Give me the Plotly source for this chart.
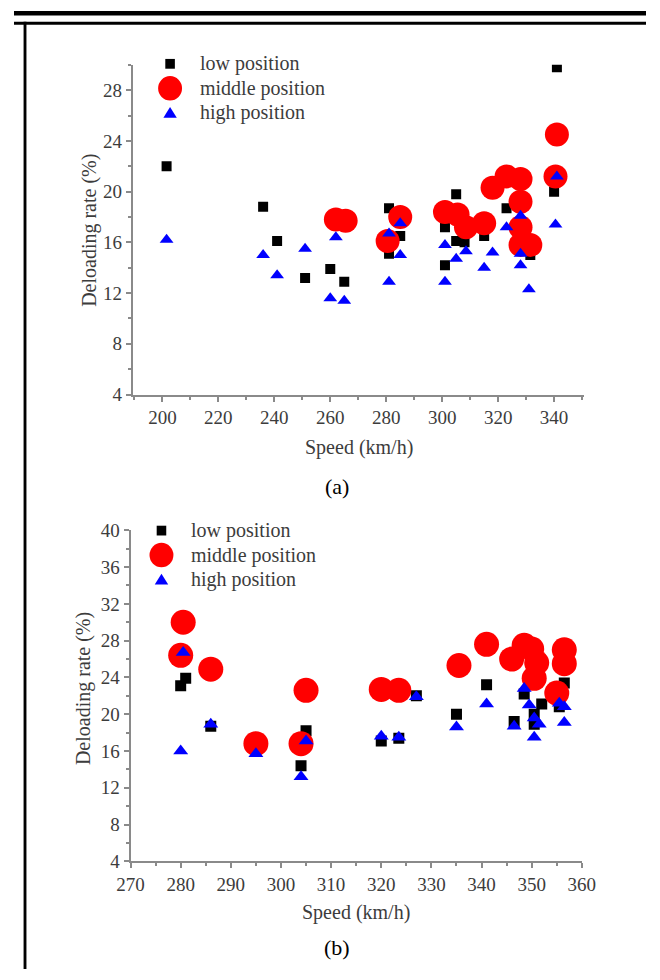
import plotly.graph_objects as go

# ---- Panel (a): deloading rate vs speed ----
a_low_speed = [201.5, 236, 241, 251, 260, 265, 281, 281, 285, 301, 301, 305, 305, 308, 315, 323, 331.5, 341, 340]
a_low_rate = [22.0, 18.8, 16.1, 13.2, 13.9, 12.9, 18.7, 15.1, 16.5, 17.2, 14.2, 19.8, 16.1, 16.0, 16.5, 18.7, 15.0, 29.8, 20.0]

a_mid_speed = [262, 265.5, 280.5, 285, 301, 305.5, 308.5, 315, 318, 323, 328, 328, 328, 328, 331.5, 341, 340.5]
a_mid_rate = [17.8, 17.7, 16.1, 18.0, 18.4, 18.2, 17.2, 17.5, 20.3, 21.2, 21.0, 19.2, 17.2, 15.8, 15.8, 24.5, 21.2]

a_high_speed = [201.5, 236, 241, 251, 260, 265, 262, 281, 281, 285, 285, 301, 301, 305, 308.5, 315, 318, 323, 328, 328, 328, 331, 341, 340.5]
a_high_rate = [16.2, 15.0, 13.4, 15.5, 11.6, 11.4, 16.4, 16.7, 12.9, 17.5, 15.0, 15.8, 12.9, 14.7, 15.3, 14.0, 15.2, 17.2, 18.1, 15.1, 14.2, 12.3, 21.2, 17.4]

# ---- Panel (b) ----
b_low_speed = [280, 281, 286, 304, 305, 320, 323.5, 327, 335, 341, 346.5, 348.5, 350.5, 350.5, 352, 355.5, 356.5]
b_low_rate = [23.1, 23.9, 18.7, 14.4, 18.2, 17.1, 17.4, 22.0, 20.0, 23.2, 19.2, 22.2, 20.0, 18.9, 21.1, 20.8, 23.4]

b_mid_speed = [280.5, 280, 286, 295, 304, 305, 320, 323.5, 335.5, 341, 346, 348.5, 350, 351, 350.5, 356.5, 356.5, 355]
b_mid_rate = [30.0, 26.4, 24.9, 16.8, 16.8, 22.6, 22.7, 22.6, 25.3, 27.6, 26.0, 27.5, 27.1, 25.6, 23.9, 27.0, 25.5, 22.3]

b_high_speed = [280.5, 280, 286, 295, 304, 305, 320, 323.5, 327, 335, 341, 346.5, 348.5, 349.5, 350.5, 351.5, 350.5, 355.5, 356.5, 356.5]
b_high_rate = [26.7, 16.0, 18.9, 15.7, 13.2, 17.1, 17.6, 17.5, 21.9, 18.6, 21.1, 18.7, 22.8, 21.0, 19.6, 18.9, 17.5, 21.2, 20.8, 19.1]

series_names = ["low position", "middle position", "high position"]
x_title = "Speed (km/h)"
y_title = "Deloading rate (%)"
panel_labels = ["(a)", "(b)"]

W, H = 660, 980
SERIF = '"Liberation Serif", "Times New Roman", Times, serif'
AXIS_GREY = "#8a8a8a"
TEXT_GREY = "#3c3c3c"


def px(x):
    return x / W


def py(y):
    return 1 - y / H


fig = go.Figure()

panels = [
    ("x", "y", (a_low_speed, a_low_rate), (a_mid_speed, a_mid_rate), (a_high_speed, a_high_rate), (10, 24, 12)),
    ("x2", "y2", (b_low_speed, b_low_rate), (b_mid_speed, b_mid_rate), (b_high_speed, b_high_rate), (11, 25, 13)),
]
for xa, ya, low, mid, high, (s_sq, s_ci, s_tr) in panels:
    fig.add_trace(go.Scatter(x=low[0], y=low[1], mode="markers", name=series_names[0],
                             xaxis=xa, yaxis=ya, showlegend=False,
                             marker=dict(symbol="square", size=s_sq, color="#000000", line=dict(width=0))))
    fig.add_trace(go.Scatter(x=mid[0], y=mid[1], mode="markers", name=series_names[1],
                             xaxis=xa, yaxis=ya, showlegend=False,
                             marker=dict(symbol="circle", size=s_ci, color="#ff0000", line=dict(width=0))))
    fig.add_trace(go.Scatter(x=high[0], y=high[1], mode="markers", name=series_names[2],
                             xaxis=xa, yaxis=ya, showlegend=False,
                             marker=dict(symbol="triangle-up", size=s_tr, color="#0000ff", line=dict(width=0))))

axis_common = dict(
    showline=True, linecolor=AXIS_GREY, linewidth=2, mirror=False,
    ticks="outside", ticklen=5, tickwidth=1.5, tickcolor=AXIS_GREY,
    showgrid=False, zeroline=False,
    tickfont=dict(family=SERIF, size=19, color=TEXT_GREY),
)

fig.update_layout(
    width=W, height=H,
    margin=dict(l=0, r=0, t=0, b=0),
    paper_bgcolor="white", plot_bgcolor="white",
    showlegend=False,
    font=dict(family=SERIF),
    xaxis=dict(domain=[px(124), px(595)], range=[189.4, 350.6], anchor="y",
               tickmode="linear", tick0=200, dtick=20,
               minor=dict(ticks="outside", ticklen=3, tickcolor=AXIS_GREY, dtick=10, tick0=190),
               **axis_common),
    yaxis=dict(domain=[py(393), py(56)], range=[4, 30], anchor="x",
               tickmode="linear", tick0=4, dtick=4,
               minor=dict(ticks="outside", ticklen=3, tickcolor=AXIS_GREY, dtick=2, tick0=4),
               **axis_common),
    xaxis2=dict(domain=[px(121.7), px(593)], range=[270, 360], anchor="y2",
                tickmode="linear", tick0=270, dtick=10,
                minor=dict(ticks="outside", ticklen=3, tickcolor=AXIS_GREY, dtick=5, tick0=270),
                **axis_common),
    yaxis2=dict(domain=[py(870), py(531.7)], range=[4, 40], anchor="x2",
                tickmode="linear", tick0=4, dtick=4,
                minor=dict(ticks="outside", ticklen=3, tickcolor=AXIS_GREY, dtick=2, tick0=4),
                **axis_common),
)

annotations = []
shapes = []

# axis titles and panel captions
for (xt_x, xt_y, yt_x, yt_y, cap_y), cap in zip([(360, 447, 78, 225, 487), (357, 922, 72, 693, 958)], panel_labels):
    annotations.append(dict(text=x_title, x=px(xt_x), y=py(xt_y), xref="paper", yref="paper",
                            xanchor="center", yanchor="middle", showarrow=False,
                            font=dict(family=SERIF, size=20, color=TEXT_GREY)))
    annotations.append(dict(text=y_title, x=px(yt_x), y=py(yt_y), xref="paper", yref="paper",
                            xanchor="center", yanchor="middle", showarrow=False, textangle=-90,
                            font=dict(family=SERIF, size=20, color=TEXT_GREY)))
    annotations.append(dict(text=cap, x=px(337), y=py(cap_y), xref="paper", yref="paper",
                            xanchor="center", yanchor="middle", showarrow=False,
                            font=dict(family=SERIF, size=22, color="#000000")))

# legend keys drawn in page coordinates
for sym_x, text_x, rows in [(163, 192, (55, 80, 105)), (154, 183, (532, 557, 582))]:
    r_low, r_mid, r_high = rows
    shapes.append(dict(type="rect", xref="paper", yref="paper", x0=px(sym_x - 5), x1=px(sym_x + 5),
                       y0=py(r_low + 5), y1=py(r_low - 5), fillcolor="#000000", line=dict(width=0)))
    shapes.append(dict(type="circle", xref="paper", yref="paper", x0=px(sym_x - 12.5), x1=px(sym_x + 12.5),
                       y0=py(r_mid + 12.5), y1=py(r_mid - 12.5), fillcolor="#ff0000", line=dict(width=0)))
    tri = "M {:.5f},{:.5f} L {:.5f},{:.5f} L {:.5f},{:.5f} Z".format(
        px(sym_x), py(r_high - 6), px(sym_x - 7), py(r_high + 5), px(sym_x + 7), py(r_high + 5))
    shapes.append(dict(type="path", xref="paper", yref="paper", path=tri,
                       fillcolor="#0000ff", line=dict(width=0)))
    for name, r in zip(series_names, rows):
        annotations.append(dict(text=name, x=px(text_x), y=py(r), xref="paper", yref="paper",
                                xanchor="left", yanchor="middle", showarrow=False,
                                font=dict(family=SERIF, size=20, color=TEXT_GREY)))

# page frame: double rule at the top and a rule down the left side
shapes.append(dict(type="rect", xref="paper", yref="paper", x0=0, x1=1, y0=py(5.5), y1=py(1),
                   fillcolor="#000000", line=dict(width=0)))
shapes.append(dict(type="rect", xref="paper", yref="paper", x0=0, x1=1, y0=py(15), y1=py(12),
                   fillcolor="#000000", line=dict(width=0)))
shapes.append(dict(type="rect", xref="paper", yref="paper", x0=px(10), x1=px(13), y0=0, y1=py(12),
                   fillcolor="#000000", line=dict(width=0)))

fig.update_layout(annotations=annotations, shapes=shapes)

fig.write_html("out.html")
